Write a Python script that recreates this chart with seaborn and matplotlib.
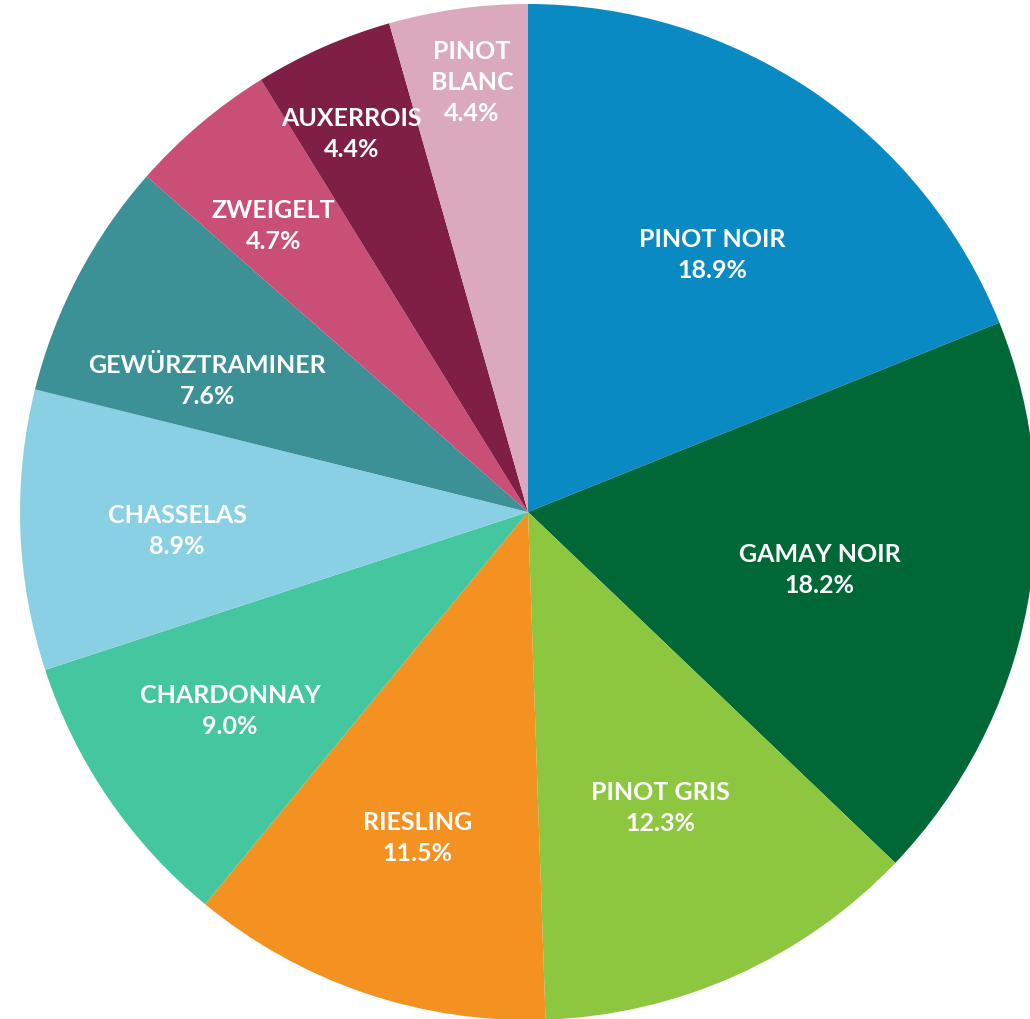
"""
Grape variety share pie chart.
"""

import numpy as np
import matplotlib.pyplot as plt
import seaborn as sns


VARIETIES = [
    "PINOT NOIR", "GAMAY NOIR", "PINOT GRIS", "RIESLING", "CHARDONNAY",
    "CHASSELAS", "GEWÜRZTRAMINER", "ZWEIGELT", "AUXERROIS", "PINOT\nBLANC",
]
SHARES = [18.9, 18.2, 12.3, 11.5, 9.0, 8.9, 7.6, 4.7, 4.4, 4.4]

COLORS = [
    "#0A8AC2", "#006837", "#8DC63F", "#F39221", "#44C69E",
    "#8AD0E5", "#3C9196", "#C94F76", "#801F45", "#DBA9BD",
]
# label placement: fraction of the radius, and angular nudge (deg, counterclockwise)
LABEL_RADII = [0.622, 0.586, 0.638, 0.677, 0.705, 0.692, 0.682, 0.753, 0.821, 0.852]
LABEL_NUDGE = [-1.6, -0.4, 0.0, 0.0, -0.6, 1.0, 5.4, 1.5, 1.3, -0.5]

CENTER_PX = (528, 512)
RADIUS_PX = 508


def main() -> None:
    sns.set_theme(style="white")
    plt.rcParams["font.family"] = ["Lato", "DejaVu Sans"]

    fig = plt.figure(figsize=(10.30, 10.19), dpi=100)
    ax = fig.add_axes([0, 0, 1, 1])

    wedges, _ = ax.pie(
        SHARES,
        colors=sns.color_palette(COLORS),
        startangle=90,
        counterclock=False,
        radius=1.0,
        wedgeprops={"linewidth": 0},
    )

    for wedge, name, share, dist, nudge in zip(
        wedges, VARIETIES, SHARES, LABEL_RADII, LABEL_NUDGE
    ):
        mid = np.deg2rad((wedge.theta1 + wedge.theta2) / 2 + nudge)
        ax.text(
            dist * np.cos(mid),
            dist * np.sin(mid),
            f"{name}\n{share:.1f}%",
            ha="center",
            va="center",
            color="white",
            fontsize=18,
            fontweight="bold",
            linespacing=1.42,
        )

    cx, cy = CENTER_PX
    ax.set_xlim(-cx / RADIUS_PX, (1030 - cx) / RADIUS_PX)
    ax.set_ylim(-(1019 - cy) / RADIUS_PX, cy / RADIUS_PX)
    ax.set_aspect("auto")
    ax.axis("off")

    fig.savefig("out.png", dpi=100, facecolor="white")
    plt.close(fig)


if __name__ == "__main__":
    main()
